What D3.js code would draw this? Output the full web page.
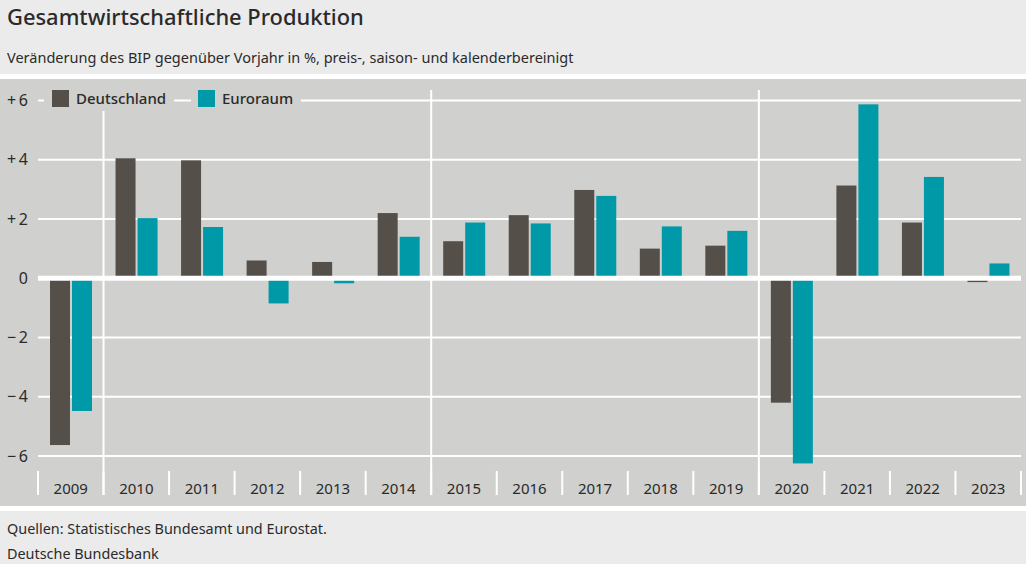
<!DOCTYPE html>
<html>
<head>
<meta charset="utf-8">
<script src="https://cdn.jsdelivr.net/npm/d3@7"></script>
<style>
  html, body { margin: 0; padding: 0; background: #ebebeb; overflow: hidden; }
  svg { display: block; }
  text { font-family: "Noto Sans", "Open Sans", sans-serif; fill: #2a2a2a; }
</style>
</head>
<body>
<div id="chart"></div>
<script>
const years = ['2009','2010','2011','2012','2013','2014','2015','2016','2017','2018','2019','2020','2021','2022','2023']
const seriesNames = ['Deutschland','Euroraum']
const deutschland = [-5.63,4.05,3.98,0.6,0.55,2.2,1.25,2.13,2.98,1.0,1.1,-4.2,3.13,1.88,-0.13]
const euroraum = [-4.48,2.03,1.73,-0.85,-0.17,1.4,1.88,1.85,2.78,1.75,1.6,-6.25,5.87,3.42,0.5]
const yTicks = [6,4,2,0,-2,-4,-6]
const dividers = ['2010','2015','2020']

const colors = {Deutschland: '#544f49', Euroraum: '#0099a8'}
const w = 1026, h = 564

const svg = d3.select('#chart').append('svg')
  .attr('width', w)
  .attr('height', h)

// white strip and gray plot panel
svg.append('rect').attr('x', 0).attr('y', 74).attr('width', w).attr('height', 437).attr('fill', '#fff')
svg.append('rect').attr('x', 0).attr('y', 79).attr('width', w).attr('height', 427).attr('fill', '#d0d0ce')

// Scales
const x = d3.scaleBand().domain(years).range([38, 1021])
const xInner = d3.scaleBand().domain(seriesNames).range([12, 54]).paddingInner(2/22)
const y = d3.scaleLinear().domain([-6, 6]).range([456, 100.5])

// Horizontal grid
svg.selectAll('line.grid')
  .data(yTicks)
  .enter()
  .append('line')
  .attr('class', 'grid')
  .attr('x1', 38)
  .attr('x2', 1021)
  .attr('y1', d => y(d))
  .attr('y2', d => y(d))
  .attr('stroke', '#fff')
  .attr('stroke-width', 2)

// Long dividers
svg.selectAll('line.divider')
  .data(dividers)
  .enter()
  .append('line')
  .attr('class', 'divider')
  .attr('x1', d => x(d))
  .attr('x2', d => x(d))
  .attr('y1', d => d === '2010' ? 111 : 90)
  .attr('y2', 495)
  .attr('stroke', '#fff')
  .attr('stroke-width', 2)

// Bars
const rows = years.map((yr, i) => ({year: yr, Deutschland: deutschland[i], Euroraum: euroraum[i]}))
seriesNames.forEach(name => {
  svg.selectAll('rect.bar-' + name)
    .data(rows)
    .enter()
    .append('rect')
    .attr('class', 'bar-' + name)
    .attr('x', d => x(d.year) + xInner(name))
    .attr('y', d => y(Math.max(0, d[name])))
    .attr('width', xInner.bandwidth())
    .attr('height', d => Math.abs(y(d[name]) - y(0)))
    .attr('fill', colors[name])
})

// Zero line sits over the bars
svg.append('line')
  .attr('x1', 38).attr('x2', 1021)
  .attr('y1', y(0)).attr('y2', y(0))
  .attr('stroke', '#fff')
  .attr('stroke-width', 5)

// Category separators
svg.selectAll('line.sep')
  .data(years.concat('end'))
  .enter()
  .append('line')
  .attr('class', 'sep')
  .attr('x1', d => d === 'end' ? 1021 : x(d))
  .attr('x2', d => d === 'end' ? 1021 : x(d))
  .attr('y1', 471)
  .attr('y2', 495)
  .attr('stroke', '#fff')
  .attr('stroke-width', 2)

// X axis labels
const xAxis = d3.axisBottom(x).tickSize(0).tickPadding(0)
const gx = svg.append('g').attr('transform', 'translate(0,483)').call(xAxis)
gx.select('.domain').remove()
gx.selectAll('text').attr('font-size', 15).attr('fill', '#2a2a2a').style('font-family', '"Noto Sans", sans-serif')

// Y axis labels
const yAxis = d3.axisLeft(y)
  .tickValues(yTicks)
  .tickSize(0)
  .tickPadding(0)
  .tickFormat(d => d === 0 ? '0' : (d > 0 ? '+\u2009' : '\u2212\u2009') + Math.abs(d))
const gy = svg.append('g').attr('transform', 'translate(28,0)').call(yAxis)
gy.select('.domain').remove()
gy.selectAll('text').attr('font-size', 16).attr('fill', '#2a2a2a').style('font-family', '"Noto Sans", sans-serif')

// Legend, gray patches knock out the +6 grid line
const legend = [
  {name: 'Deutschland', patch: 44, patchW: 130, swatch: 52, label: 76},
  {name: 'Euroraum', patch: 191, patchW: 110, swatch: 198, label: 222}
]
const lg = svg.selectAll('g.legend').data(legend).enter().append('g').attr('class', 'legend')
lg.append('rect').attr('x', d => d.patch).attr('y', 88).attr('width', d => d.patchW).attr('height', 22).attr('fill', '#d0d0ce')
lg.append('rect').attr('x', d => d.swatch).attr('y', 90).attr('width', 17).attr('height', 17).attr('fill', d => colors[d.name])
lg.append('text')
  .attr('x', d => d.label)
  .attr('y', 104)
  .attr('font-size', 15)
  .attr('font-weight', 500)
  .text(d => d.name)

// Title block
svg.append('text').attr('x', 7).attr('y', 25).attr('font-size', 21.9).attr('font-weight', 500).text('Gesamtwirtschaftliche Produktion')
svg.append('text').attr('x', 7).attr('y', 63).attr('font-size', 14.5).attr('fill', '#3a3a3a').text('Veränderung des BIP gegenüber Vorjahr in %, preis-, saison- und kalenderbereinigt')
svg.append('text').attr('x', 7).attr('y', 534).attr('font-size', 14.4).attr('fill', '#3a3a3a').text('Quellen: Statistisches Bundesamt und Eurostat.')
svg.append('text').attr('x', 7).attr('y', 559).attr('font-size', 14.4).attr('fill', '#3a3a3a').text('Deutsche Bundesbank')
</script>
</body>
</html>
